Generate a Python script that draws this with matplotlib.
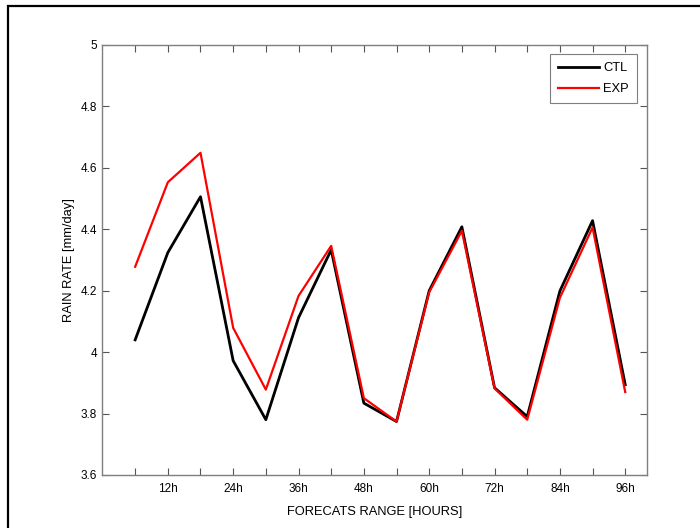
import matplotlib
matplotlib.use("Agg")
import matplotlib.pyplot as plt
from matplotlib.patches import Rectangle

plt.rcParams["font.family"] = ["Liberation Sans", "DejaVu Sans"]

# forecast lead times (hours)
hours = [6, 12, 18, 24, 30, 36, 42, 48, 54, 60, 66, 72, 78, 84, 90, 96]
ctl = [4.040, 4.324, 4.506, 3.972, 3.780, 4.112, 4.333, 3.834, 3.774, 4.200,
       4.408, 3.884, 3.790, 4.199, 4.428, 3.894]
exp = [4.278, 4.553, 4.649, 4.079, 3.878, 4.183, 4.346, 3.850, 3.774, 4.195,
       4.395, 3.882, 3.780, 4.177, 4.406, 3.870]

minor_hours = list(range(6, 100, 6))
label_hours = list(range(12, 100, 12))
yticks = [3.6, 3.8, 4.0, 4.2, 4.4, 4.6, 4.8, 5.0]
ytick_labels = ["3.6", "3.8", "4", "4.2", "4.4", "4.6", "4.8", "5"]

fig = plt.figure(figsize=(7.0, 5.28), dpi=100)
ax = fig.add_axes([0.1464, 0.1004, 0.7779, 0.8144])

ax.plot(hours, ctl, color="black", lw=2.0, label="CTL")
ax.plot(hours, exp, color="red", lw=1.6, label="EXP")

ax.set_xlim(0, 100)
ax.set_ylim(3.6, 5.0)
ax.set_xticks(minor_hours)
ax.set_xticklabels([f"{h}h" if h in label_hours else "" for h in minor_hours])
ax.set_yticks(yticks)
ax.set_yticklabels(ytick_labels)
ax.tick_params(direction="in", top=True, right=True, length=5, width=0.8,
               color="#555555", labelsize=8.5, pad=6)
ax.tick_params(axis="y", pad=4)
for sp in ax.spines.values():
    sp.set_color("#7f7f7f")
    sp.set_linewidth(1.0)

ax.set_xlabel("FORECATS RANGE [HOURS]", fontsize=9.3, labelpad=8)
ax.set_ylabel("RAIN RATE [mm/day]", fontsize=9.3, labelpad=4)

leg = ax.legend(loc="upper right", bbox_to_anchor=(0.993, 0.993), fontsize=9.3,
                handlelength=3.2, handletextpad=0.3, borderpad=0.6,
                fancybox=False, framealpha=1, labelspacing=0.7)
leg.get_frame().set_edgecolor("#7f7f7f")
leg.get_frame().set_linewidth(0.8)

# outer frame around the figure
fig.patches.append(Rectangle((8 / 700, -0.05), 1.2, 1 - 6 / 528 + 0.05,
                             transform=fig.transFigure, fill=False,
                             edgecolor="black", lw=1.6, zorder=0))

fig.savefig("out.png", dpi=100)
